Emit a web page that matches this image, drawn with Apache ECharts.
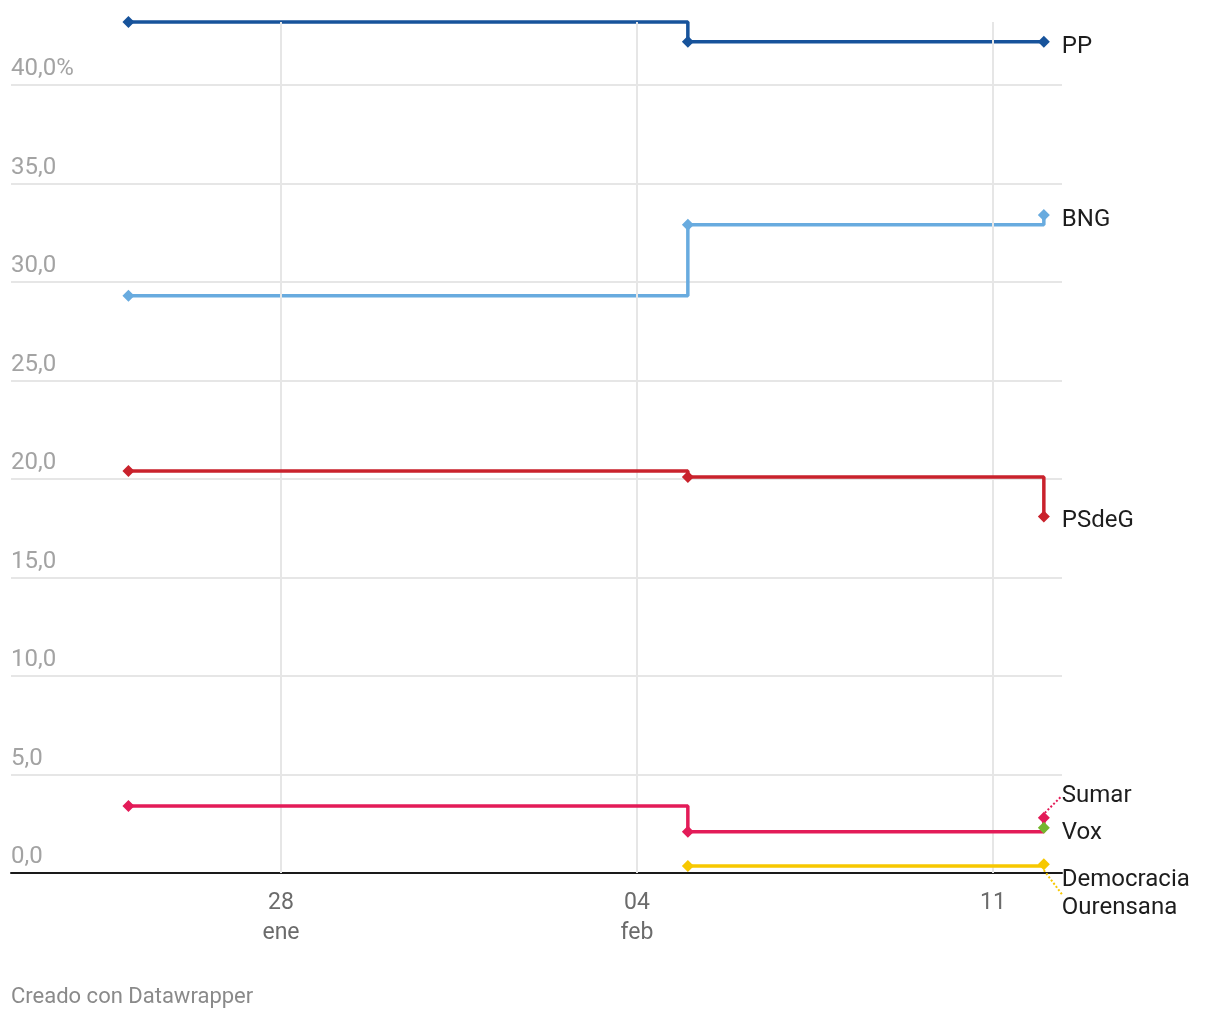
<!DOCTYPE html>
<html>
<head>
<meta charset="utf-8">
<script src="https://cdn.jsdelivr.net/npm/echarts@6/dist/echarts.min.js"></script>
<style>
html,body{margin:0;padding:0;background:#fff;}
#chart{width:1220px;height:1020px;}
</style>
</head>
<body>
<div id="chart"></div>
<script>
// ---- data ----
var dates = ['2024-01-25', '2024-02-05', '2024-02-12'];
var seriesNames = ['PP', 'BNG', 'PSdeG', 'Sumar', 'Vox', 'Democracia\nOurensana'];
var ppValues = [43.2, 42.2, 42.2];
var bngValues = [29.3, 32.9, 33.4];
var psdegValues = [20.4, 20.1, 18.1];
var sumarValues = [3.4, 2.1, 2.8];
var voxValues = [null, null, 2.3];
var doValues = [null, 0.35, 0.45];
var xTickDates = ['2024-01-28', '2024-02-04', '2024-02-11'];
var xTickLabels = ['28\nene', '04\nfeb', '11'];
var yTickValues = [0, 5, 10, 15, 20, 25, 30, 35, 40];
var footerText = 'Creado con Datawrapper';

// ---- styling ----
var colors = ['#17539b', '#68abdf', '#c9222c', '#e31b58', '#74b72e', '#f7c800'];
var labelDy = [5, 5, 5, -22, 5, 30];
var DAY = 86400000;
function ts(d) { var p = d.split('-'); return Date.UTC(+p[0], +p[1] - 1, +p[2]); }
var ref = ts('2024-01-28');
var xMin = ref - 5.309 * DAY;
var xMax = ref + 15.357 * DAY;
var tickTs = xTickDates.map(ts);

var valueLists = [ppValues, bngValues, psdegValues, sumarValues, voxValues, doValues];

var series = valueLists.map(function (vals, si) {
  var data = [];
  vals.forEach(function (v, i) {
    if (v === null) return;
    var item = { value: [ts(dates[i]), v] };
    if (i === vals.length - 1) {
      item.label = {
        show: true,
        position: 'right',
        distance: 12,
        formatter: seriesNames[si],
        color: '#1d1d1d',
        fontFamily: 'Roboto',
        fontSize: 24,
        lineHeight: 28
      };
    }
    data.push(item);
  });
  var s = {
    type: 'line',
    name: seriesNames[si],
    step: 'end',
    data: data,
    symbol: 'diamond',
    symbolSize: 12,
    showSymbol: true,
    color: colors[si],
    lineStyle: { width: 3.5, color: colors[si] },
    itemStyle: { color: colors[si] },
    z: 3 + si,
    animation: false,
    labelLayout: { dy: labelDy[si] }
  };
  if (si === 3 || si === 5) {
    s.labelLine = { show: true, lineStyle: { type: 'dotted', width: 2, color: colors[si] } };
  }
  return s;
});

// vertical grid lines (drawn through the data scale)
series.unshift({
  type: 'line',
  data: [],
  silent: true,
  z: 1,
  animation: false,
  markLine: {
    silent: true,
    symbol: 'none',
    animation: false,
    label: { show: false },
    lineStyle: { color: '#e6e6e6', width: 2, type: 'solid' },
    data: tickTs.map(function (t) { return [{ coord: [t, 0] }, { coord: [t, 43.2] }]; })
  }
});

var chart = echarts.init(document.getElementById('chart'), null, { renderer: 'canvas' });
chart.setOption({
  backgroundColor: '#ffffff',
  animation: false,
  grid: { left: 11, right: 158, top: -13.5, bottom: 147, containLabel: false, outerBoundsMode: 'none' },
  xAxis: {
    type: 'value',
    min: xMin,
    max: xMax,
    axisLine: { show: true, lineStyle: { color: '#1a1a1a', width: 2 } },
    axisTick: { show: false },
    splitLine: { show: false },
    axisLabel: {
      customValues: tickTs,
      formatter: function (v) {
        var i = tickTs.indexOf(v);
        return i >= 0 ? xTickLabels[i] : '';
      },
      color: '#6b6b6b',
      fontFamily: 'Roboto',
      fontSize: 23,
      lineHeight: 30,
      margin: 15
    }
  },
  yAxis: {
    type: 'value',
    min: 0,
    max: 45,
    interval: 5,
    axisLine: { show: false },
    axisTick: { show: false },
    splitLine: { show: true, lineStyle: { color: '#e6e6e6', width: 2 } },
    axisLabel: {
      inside: true,
      margin: 0,
      verticalAlign: 'bottom',
      padding: [0, 0, 4, 0],
      color: '#a3a3a3',
      fontFamily: 'Roboto',
      fontSize: 24,
      lineHeight: 24,
      formatter: function (v) {
        if (yTickValues.indexOf(v) < 0) return '';
        var s = v.toFixed(1).replace('.', ',');
        return v === 40 ? s + '%' : s;
      }
    }
  },
  graphic: [{
    type: 'text',
    left: 11,
    top: 986,
    style: { text: footerText, fill: '#8a8a8a', font: '22px Roboto' }
  }],
  series: series
});
</script>
</body>
</html>
